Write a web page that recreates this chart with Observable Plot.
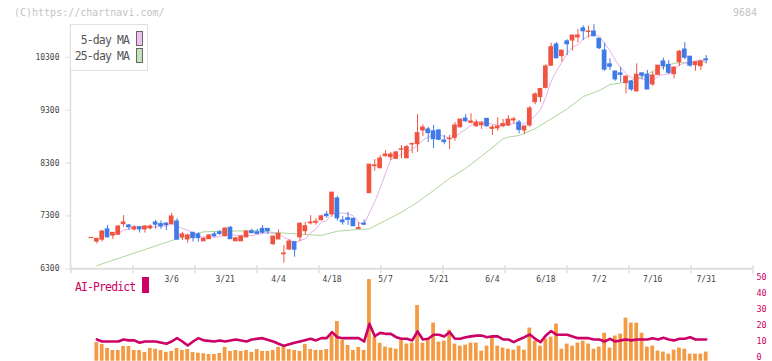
<!DOCTYPE html>
<html><head><meta charset="utf-8">
<script src="https://cdn.jsdelivr.net/npm/d3@7"></script>
<script src="https://cdn.jsdelivr.net/npm/@observablehq/plot@0.6"></script>
<style>
html,body{margin:0;padding:0;background:#fff;}
#chart{position:relative;width:772px;height:361px;overflow:hidden;background:#fff;}
#chart svg{position:absolute;left:0;top:0;}
</style></head><body><div id="chart"></div>
<script>
// ---- data ----
const opens = [
6880,6815,6850,7045,6930,6945,7145,7120,7045,7085,
7045,7065,7175,7145,7155,7145,7195,6895,6855,6980,
6950,6820,6860,6950,6990,6915,7075,6820,6820,6895,
7010,6990,7055,7055,6765,6855,6575,6665,6805,6895,
7010,7160,7170,7220,7325,7330,7630,7215,7255,7245,
7055,7155,7730,8240,8200,8430,8410,8380,8550,8390,
8650,8655,8915,8935,8900,8915,8725,8750,8775,8975,
9140,9060,8995,9015,9135,8945,8955,8995,9010,9105,
9065,8915,9010,9450,9545,9720,10140,10540,10320,10600,
10615,10675,10845,10775,10785,10650,10425,10165,10030,9995,
9810,9840,9655,9995,9970,9785,9965,10220,10155,9980,
10205,10445,10310,10150,10130,10260];
const highs = [
6890,6865,7025,7120,6980,7115,7305,7135,7115,7085,
7115,7130,7215,7205,7170,7345,7245,6990,6960,6990,
6980,6895,6945,6990,7025,7080,7100,6895,6925,7010,
7050,7045,7120,7055,6910,7035,6740,6850,6805,7175,
7175,7305,7250,7315,7385,7740,7665,7290,7365,7255,
7175,7220,8270,8365,8440,8535,8500,8515,8630,8630,
8675,9215,9020,8975,9010,8935,8820,8820,9065,9135,
9215,9230,9115,9085,9135,9010,9155,9125,9195,9165,
9105,8990,9370,9625,9700,10160,10565,10575,10425,10630,
10710,10825,10895,10885,10915,10650,10565,10270,10030,10110,
9935,9860,10175,9995,10050,10015,10140,10280,10235,10105,
10425,10575,10310,10205,10235,10330];
const lows = [
6875,6770,6805,6885,6855,6930,7085,7025,7010,6975,
6975,7035,7050,7045,7025,7130,6850,6835,6785,6805,
6805,6820,6855,6895,6930,6910,6855,6820,6815,6885,
6960,6945,6960,6945,6740,6850,6405,6645,6520,6815,
6930,7130,7125,7205,7255,7275,7200,7125,7120,7105,
7045,7120,7730,8145,8200,8410,8345,8365,8380,8380,
8475,8505,8800,8685,8575,8725,8645,8555,8710,8965,
9065,9040,8975,8935,8975,8820,8900,8965,8990,9040,
8850,8840,8975,9400,9445,9700,10125,10270,10205,10330,
10415,10570,10615,10660,10690,10445,10035,10050,9845,9825,
9605,9655,9640,9870,9685,9750,9965,10050,9970,9890,
10125,10255,10110,10035,10050,10175];
const closes = [
6885,6865,7005,6895,6980,7100,7175,7085,7085,7045,
7100,7100,7135,7105,7125,7290,6850,6950,6930,6880,
6880,6865,6930,6915,6960,7060,6860,6875,6910,7005,
6975,6960,6980,7010,6910,6960,6590,6815,6660,7150,
7105,7175,7190,7290,7295,7740,7255,7180,7225,7105,
7070,7135,8270,8255,8385,8460,8460,8500,8560,8600,
8660,8865,8970,8865,8750,8740,8695,8760,9010,9120,
9090,9085,9065,9050,8995,8970,8990,9035,9120,9125,
8925,8990,9330,9595,9700,10125,10490,10280,10425,10545,
10710,10710,10790,10785,10695,10470,10065,10120,9880,9965,
9935,9690,9970,9950,9690,9955,10140,10130,10005,10105,
10405,10290,10140,10205,10220,10245];
const volumes = [
null,11.7,10.5,8.0,6.7,6.7,9.2,9.2,6.7,6.7,
5.5,8.0,7.5,6.7,5.5,6.1,8.0,6.7,7.3,5.5,
5.0,4.6,4.2,4.2,4.8,8.6,6.1,6.7,6.1,6.7,
5.5,7.3,6.1,6.1,6.7,8.6,9.2,7.3,6.7,6.1,
10.5,7.3,6.7,6.7,7.3,16.1,24.8,13.0,9.8,6.7,
8.6,6.7,51.0,14.8,11.2,8.8,8.2,7.5,13.2,10.7,
11.3,34.8,11.3,13.2,23.8,11.9,12.5,19.4,10.7,9.4,
10.0,11.3,11.3,6.3,9.4,15.0,9.4,8.2,7.5,6.9,
9.4,6.9,20.7,12.5,9.4,13.8,15.0,23.2,7.5,10.7,
9.4,11.3,12.5,10.7,7.5,8.8,17.5,8.2,15.7,16.9,
26.9,23.8,23.8,17.5,8.8,9.4,6.3,5.7,4.4,6.9,
8.2,7.5,4.4,4.4,4.4,5.7];
// [candle number (1-based), value]
const aiPoints = [
[2,13.6],[3,12.3],[5,12.3],[6,12.3],[7,13.6],[8,13.0],[9,13.0],[10,11.5],[11,12.3],[13,12.3],
[15,10.9],[16,12.3],[17,14.4],[18,12.3],[19,9.8],[20,12.3],[21,14.4],[22,13.0],[24,12.3],[25,13.0],
[26,12.3],[28,13.6],[30,12.3],[31,13.6],[33,14.4],[35,12.3],[36,10.9],[37,9.6],[39,11.5],[40,12.3],
[42,14.0],[43,13.0],[44,14.4],[45,14.4],[46,18.2],[47,15.0],[48,14.4],[49,14.4],[50,14.4],[51,14.4],
[52,12.3],[53,23.4],[54,15.6],[55,17.7],[56,17.1],[57,17.1],[58,15.0],[59,14.0],[60,14.0],[61,13.0],
[62,18.6],[63,13.6],[64,14.0],[65,16.5],[66,16.5],[67,15.5],[68,18.2],[69,14.0],[70,14.0],[71,15.0],
[72,15.5],[73,16.0],[74,16.0],[75,15.0],[76,15.6],[77,15.5],[78,13.6],[79,13.6],[80,11.9],[81,13.6],
[82,15.0],[83,16.7],[84,14.0],[85,11.9],[86,16.0],[87,18.8],[88,16.5],[89,16.5],[90,16.5],[91,15.5],
[92,14.4],[93,14.4],[94,14.4],[95,13.6],[96,13.6],[97,12.3],[98,14.0],[99,12.3],[100,13.0],[101,13.6],
[102,13.0],[103,13.6],[104,13.6],[105,13.6],[106,14.4],[107,13.6],[108,14.6],[109,13.6],[110,13.0],
[111,14.0],[112,14.0],[113,15.0],[114,13.6],[115,13.6],[116,13.6]];
const ma25Points = [
[2,6360],[17,6867],[22,7000],[26,7012],[32,7020],[34,6995],[37,6975],[44,6930],[47,7011],[50,7037],
[53,7056],[56,7213],[59,7370],[62,7559],[65,7780],[68,8010],[71,8200],[74,8430],[78,8757],[79,8790],
[81,8819],[84,8946],[87,9135],[90,9324],[93,9556],[96,9670],[98,9783],[101,9827],[104,9934],[107,10080],
[110,10186],[112,10199],[116,10212]];
const dateLabels = ["3/6","3/21","4/4","4/18","5/7","5/21","6/4","6/18","7/2","7/16","7/31"];
const dateIdx = [15,25,35,45,55,65,75,85,95,105,115];
const priceTicks = [6300,7300,8300,9300,10300];
const volTicks = [0,10,20,30,40,50];
const gridIdx = [-3.84,7.76,19.36,30.96,42.56,54.16,65.76,77.36,88.96,100.56,112.16,123.76];

// ---- build ----
const MONO = '"DejaVu Sans Mono", monospace';
const RED = "#f05440", BLUE = "#4079e8";
const HW = 0.44, BW = 0.35;
const xDomain = [-3.929, 123.667];
const candles = opens.map((o, i) => ({i, open: o, high: highs[i], low: lows[i], close: closes[i]}));
const up = candles.filter(d => d.close >= d.open);
const down = candles.filter(d => d.close < d.open);
const ma5 = [];
for (let i = 4; i < closes.length; i++) ma5.push({i, v: d3.mean(closes.slice(i - 4, i + 1))});
const ma25 = ma25Points.map(([n, v]) => ({i: n - 1, v}));
const vol = volumes.map((v, i) => ({i, v})).filter(d => d.v != null);
const ai = aiPoints.map(([n, v]) => ({i: n - 1, v}));
const dates = dateIdx.map((i, j) => ({i, label: dateLabels[j]}));

const chart = document.getElementById("chart");

const volPlot = Plot.plot({
  width: 772, height: 361,
  marginLeft: 70, marginRight: 20, marginTop: 280.7, marginBottom: 0.3,
  x: {domain: xDomain, axis: null, label: null},
  y: {domain: [0, 50], axis: null, label: null},
  style: {background: "transparent", fontFamily: MONO},
  marks: [
    Plot.rect(vol, {x1: d => d.i - BW, x2: d => d.i + BW, y1: 0, y2: "v", fill: "#f39a42"}),
    Plot.line(ai, {x: "i", y: "v", stroke: "#cc0066", strokeWidth: 2.6, strokeLinejoin: "round"}),
    Plot.text(volTicks, {y: d => d, text: d => String(d), frameAnchor: "right", dx: 4, dy: -1.5, textAnchor: "start", lineAnchor: "bottom", fill: "#cc0066", fontSize: 8.5})
  ]
});

const pricePlot = Plot.plot({
  width: 772, height: 361,
  marginLeft: 70, marginRight: 20, marginTop: 24, marginBottom: 92.7,
  x: {domain: xDomain, label: null},
  y: {domain: [6300, 10300], range: [268.3, 56.7], label: null},
  style: {background: "transparent", fontFamily: MONO},
  marks: [
    Plot.ruleY([priceTicks[0]], {stroke: "#dedede", strokeWidth: 2}),
    Plot.ruleX([xDomain[0]], {stroke: "#dedede", strokeWidth: 1.5}),
    Plot.axisY({ticks: priceTicks, tickSize: 5, tickPadding: 6, fontSize: 8, color: "#444", stroke: "#dedede", tickFormat: d => String(d)}),
    Plot.axisX({ticks: gridIdx, tickSize: 8, dy: -3, stroke: "#dedede", strokeWidth: 1.5, tickFormat: () => ""}),
    Plot.text(dates, {x: "i", text: "label", frameAnchor: "bottom", dy: 13.5, fontSize: 8, fill: "#444"}),
    Plot.line(ma25, {x: "i", y: "v", stroke: "#acd69c", strokeWidth: 1}),
    Plot.line(ma5, {x: "i", y: "v", stroke: "#e8b0e8", strokeWidth: 1}),
    Plot.ruleX(up, {x: "i", y1: "low", y2: "high", stroke: RED, strokeWidth: 1}),
    Plot.ruleX(down, {x: "i", y1: "low", y2: "high", stroke: BLUE, strokeWidth: 1}),
    Plot.rect(up, {x1: d => d.i - HW, x2: d => d.i + HW, y1: "open", y2: "close", fill: RED, insetTop: -0.5, insetBottom: -0.5}),
    Plot.rect(down, {x1: d => d.i - HW, x2: d => d.i + HW, y1: "open", y2: "close", fill: BLUE, insetTop: -0.5, insetBottom: -0.5})
  ]
});

chart.appendChild(volPlot);
chart.appendChild(pricePlot);

// ---- overlay: credit, code, legends ----
const ov = d3.create("svg").attr("width", 772).attr("height", 361)
  .style("font-family", MONO);
ov.append("text").attr("x", 14).attr("y", 15.5).attr("font-size", 10).attr("fill", "#c4c4c4")
  .text("(C)https://chartnavi.com/");
ov.append("text").attr("x", 757).attr("y", 15.5).attr("font-size", 10).attr("fill", "#c4c4c4")
  .attr("text-anchor", "end").text("9684");
ov.append("rect").attr("x", 70.5).attr("y", 24.5).attr("width", 77).attr("height", 46)
  .attr("fill", "#fff").attr("stroke", "#e0e0e0");
const leg = [["5-day MA", "#f0c0f0", 44, 31.5], ["25-day MA", "#c4e4b8", 60, 48.5]];
leg.forEach(([t, c, by, ry]) => {
  ov.append("text").attr("x", 129).attr("y", by).attr("font-size", 11.5).attr("letter-spacing", -0.9)
    .attr("text-anchor", "end").attr("fill", "#555").text(t);
  ov.append("rect").attr("x", 136.5).attr("y", ry).attr("width", 6).attr("height", 14)
    .attr("fill", c).attr("stroke", "#666");
});
ov.append("text").attr("x", 75).attr("y", 290.5).attr("font-size", 11.5).attr("letter-spacing", -0.9)
  .attr("fill", "#cc0066").text("AI-Predict");
ov.append("rect").attr("x", 142).attr("y", 277).attr("width", 7).attr("height", 16).attr("fill", "#cc0066");
chart.appendChild(ov.node());
</script>
</body></html>
